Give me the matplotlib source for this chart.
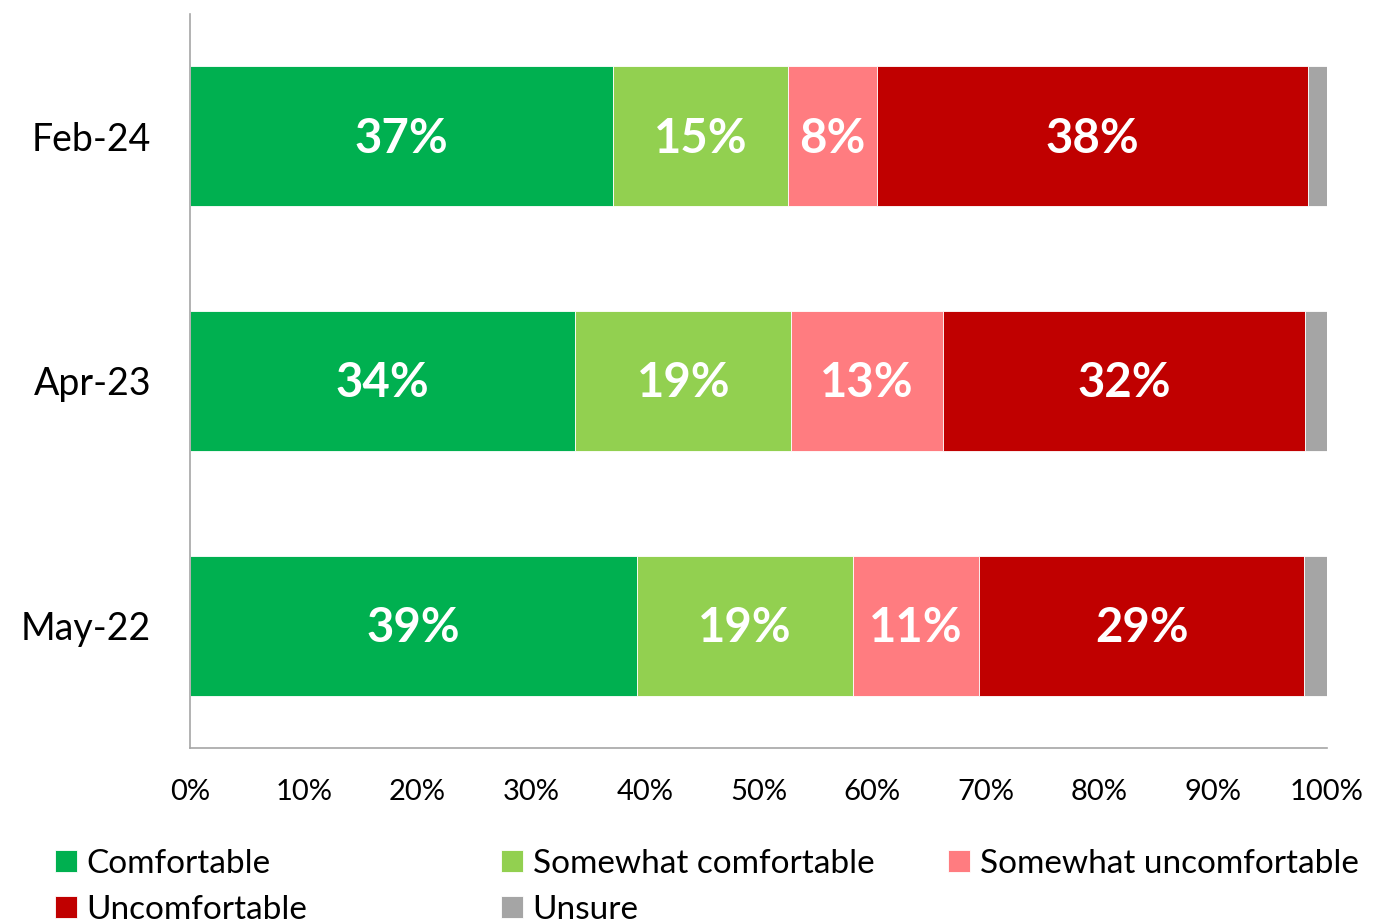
import numpy as np
import matplotlib
matplotlib.use("Agg")
import matplotlib.pyplot as plt

plt.rcParams['font.family'] = ['Lato', 'DejaVu Sans']

# survey waves, top to bottom
waves = ['Feb-24', 'Apr-23', 'May-22']

# shares in percent
comfortable = [37.2, 33.9, 39.3]
somewhat_comf = [15.4, 19.0, 19.0]
somewhat_uncomf = [7.8, 13.3, 11.1]
uncomfortable = [37.9, 31.9, 28.6]
unsure = [1.7, 1.9, 2.0]

series_names = ['Comfortable', 'Somewhat comfortable', 'Somewhat uncomfortable',
                'Uncomfortable', 'Unsure']
series_vals = [comfortable, somewhat_comf, somewhat_uncomf, uncomfortable, unsure]
colors = ['#00B050', '#92D050', '#FF7C80', '#C00000', '#A5A5A5']
show_label = [True, True, True, True, False]

fig = plt.figure(figsize=(13.78, 9.23), dpi=100)
ax = fig.add_axes([190/1378, 1 - 748/923, 1137/1378, 734/923])

y = np.arange(len(waves))
left = np.zeros(len(waves))
bars = []
for name, vals, c, lab in zip(series_names, series_vals, colors, show_label):
    vals = np.array(vals)
    b = ax.barh(y, vals, left=left, height=0.571, color=c, label=name,
                edgecolor='white', linewidth=0.6)
    bars.append(b)
    if lab:
        for yi, l, v in zip(y, left, vals):
            ax.text(l + v/2, yi + 0.01, f"{v:.0f}%", ha='center', va='center',
                    color='white', fontsize=34, fontweight='bold')
    left += vals

ax.set_xlim(0, 100)
ax.set_ylim(2.5, -0.5)
ax.set_yticks(y)
ax.set_yticklabels(waves, fontsize=27)
ax.set_xticks(np.arange(0, 101, 10))
ax.set_xticklabels([f"{v}%" for v in range(0, 101, 10)], fontsize=21)
ax.tick_params(axis='both', length=0)
ax.tick_params(axis='x', pad=22)
ax.tick_params(axis='y', pad=28)
for s in ['top', 'right']:
    ax.spines[s].set_visible(False)
for s in ['left', 'bottom']:
    ax.spines[s].set_color('#A6A6A6')
    ax.spines[s].set_linewidth(1.2)

# legend in three fixed columns like the original
cols = [[0, 3], [1, 4], [2]]
col_x = [55/1378, 501/1378, 948/1378]
for idx, cx in zip(cols, col_x):
    leg = fig.legend([bars[i] for i in idx], [series_names[i] for i in idx],
                     loc='upper left', bbox_to_anchor=(cx, 1 - 849/923),
                     frameon=False, fontsize=24, handlelength=0.65,
                     handleheight=0.65, handletextpad=0.3, labelspacing=0.48,
                     borderaxespad=0, borderpad=0)

fig.savefig('out.png', dpi=100)
